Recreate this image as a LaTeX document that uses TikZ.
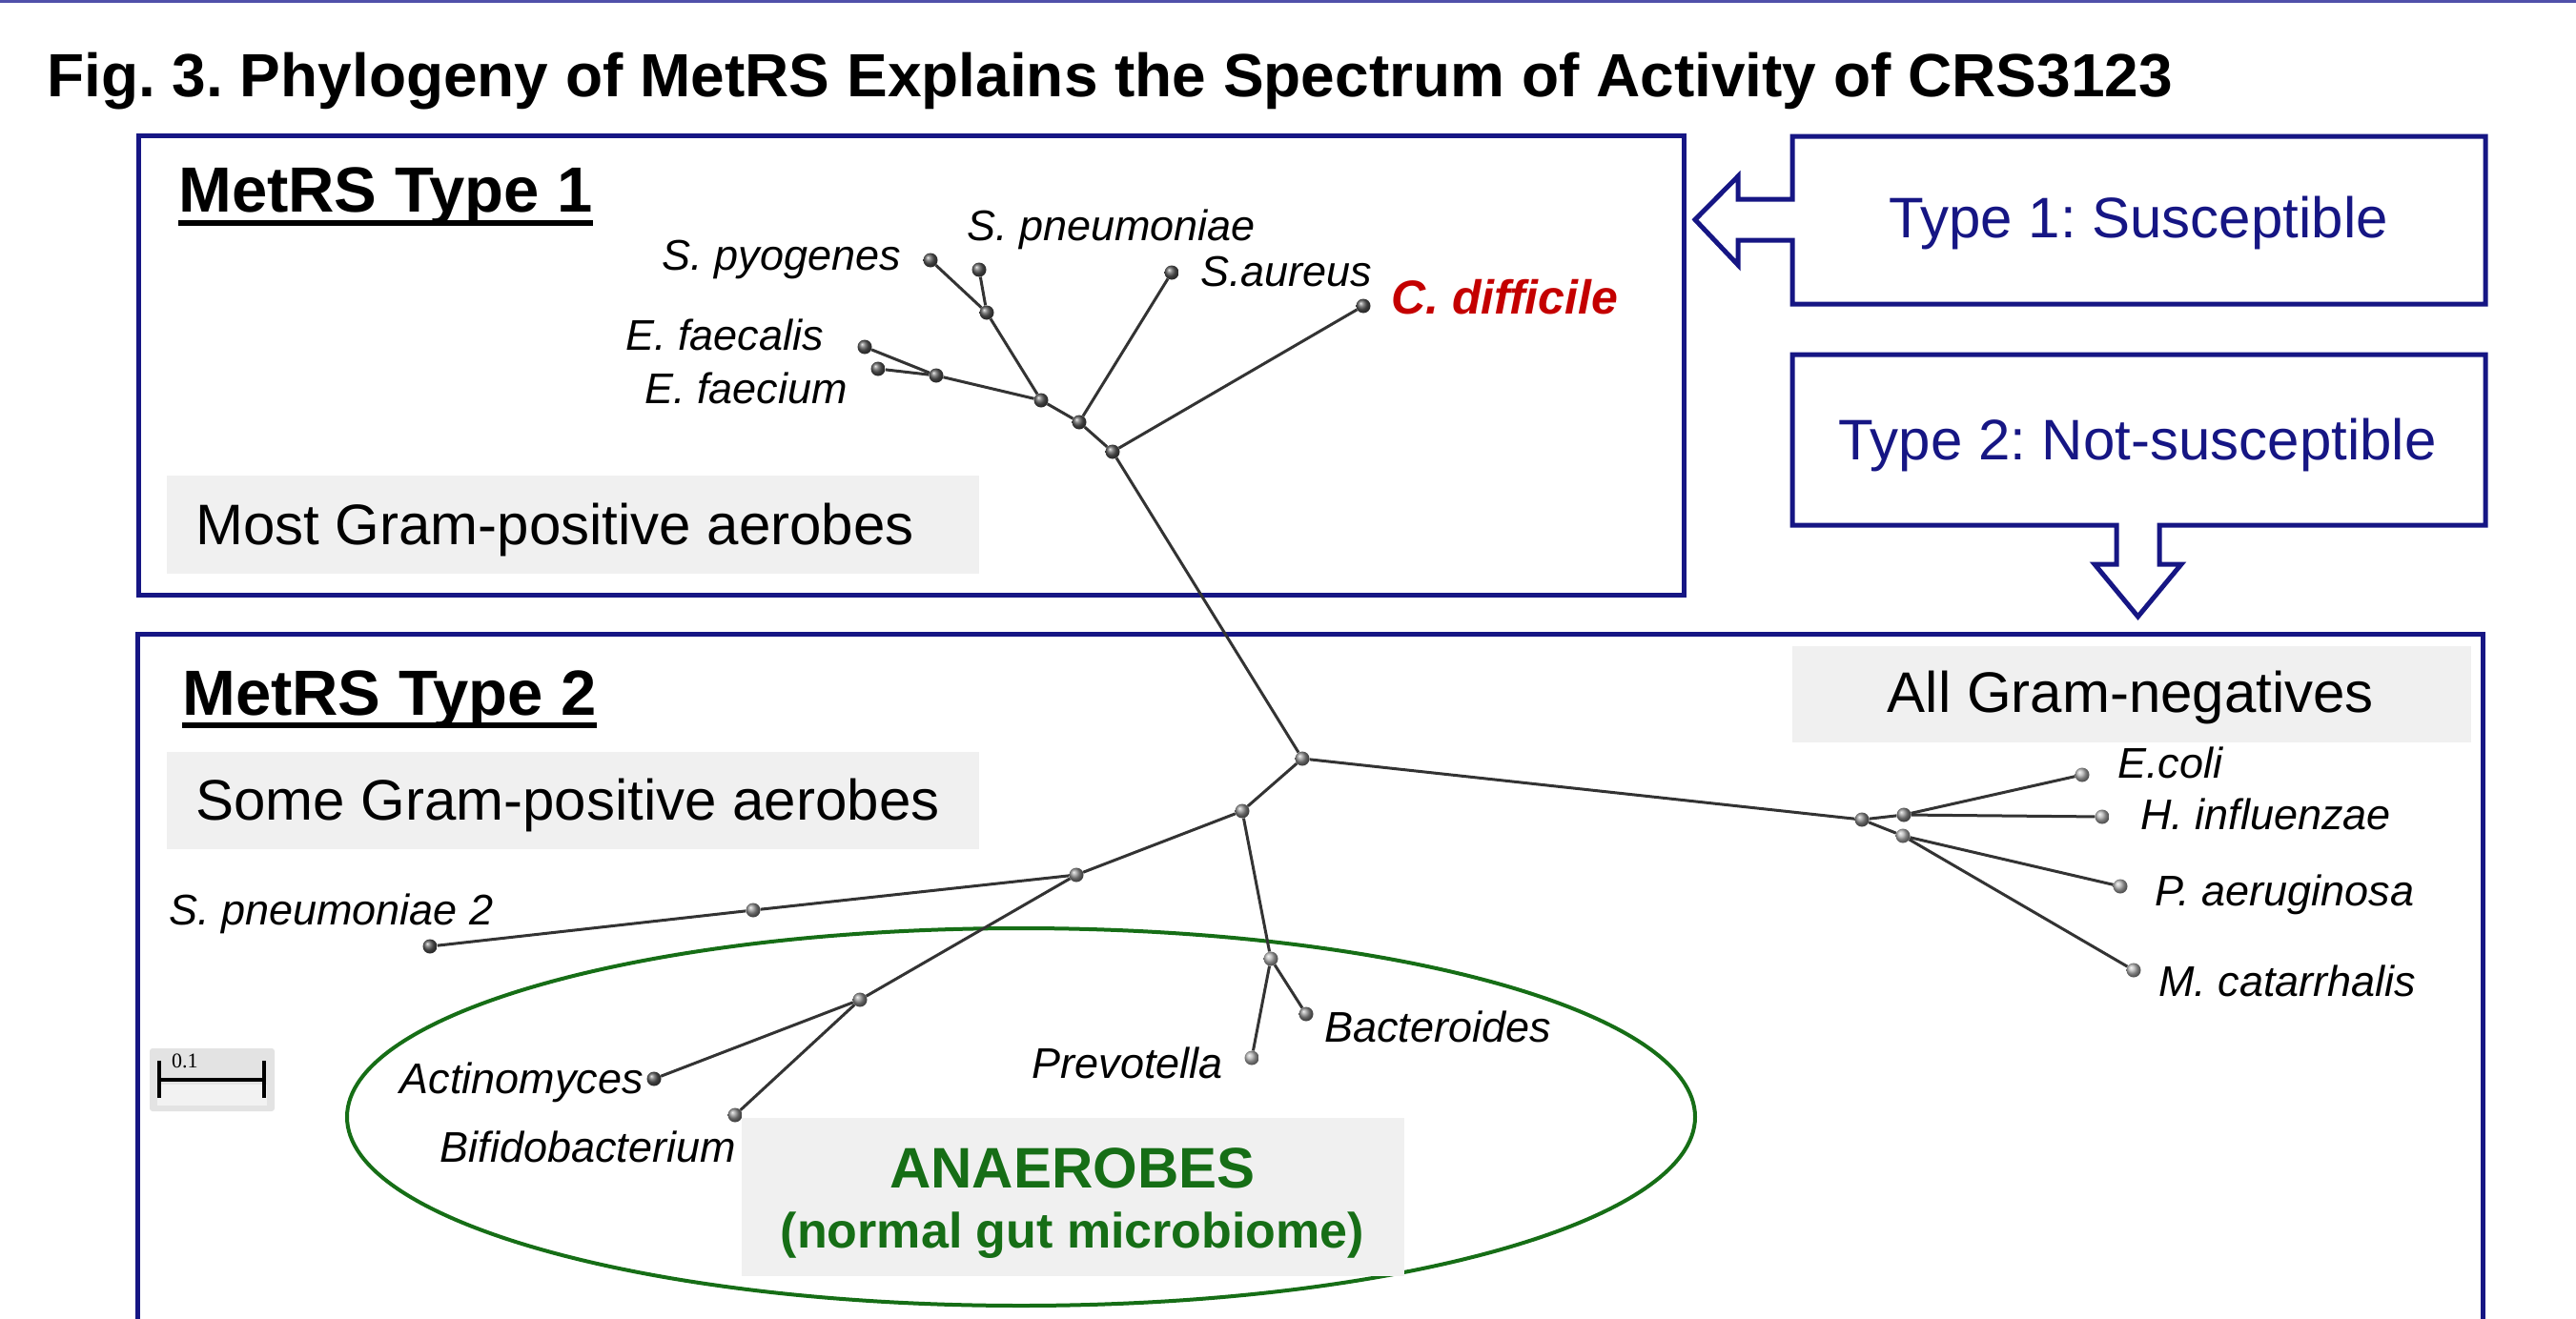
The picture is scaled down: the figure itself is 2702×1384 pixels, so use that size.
\documentclass[tikz,border=0pt]{standalone}
\usepackage{fontspec}
\setmainfont{Liberation Sans}
\newfontfamily\scalefont{Liberation Serif}
\definecolor{navy}{RGB}{22,22,132}
\definecolor{gbox}{RGB}{240,240,240}
\definecolor{grn}{RGB}{22,110,22}
\definecolor{cred}{RGB}{196,0,0}
\definecolor{topline}{RGB}{80,80,170}
\frenchspacing
\begin{document}
\begin{tikzpicture}[x=1pt,y=-1pt,
  edge/.style={draw=black!80, line width=3pt},
  ballnode/.style={circle, inner sep=0pt, minimum size=15pt, shading=ball},
  dk/.style={ballnode, ball color=black!65},
  md/.style={ballnode, ball color=black!45},
  lt/.style={ballnode, ball color=black!30},
  lab/.style={font=\fontsize{45}{54}\selectfont\itshape, inner sep=0pt},
  bigtxt/.style={font=\fontsize{60}{72}\selectfont, inner sep=0pt},
  head/.style={font=\fontsize{67}{80}\selectfont\bfseries, inner sep=0pt},
  graybox/.style={fill=gbox, draw=none, inner sep=0pt},
  navybox/.style={draw=navy, line width=5pt, line join=miter}]
\useasboundingbox (0,0) rectangle (2702,1384);
\clip (0,0) rectangle (2702,1384);
\fill[white] (0,0) rectangle (2702,1384);
% top line
\coordinate (tl1) at (0,1.5);
\coordinate (tl2) at (2702,1.5);
\draw[topline, line width=3pt] (tl1) -- (tl2);
% title
\node[anchor=base west, inner sep=0pt, font=\fontsize{64}{76}\selectfont\bfseries] (title) at (49,101)
  {Fig. 3. Phylogeny of MetRS Explains the Spectrum of Activity of CRS3123};
% main boxes
\draw[navybox] (145,142) rectangle (1766,624);
\draw[navybox] (144,665) rectangle (2604,1430);
% side boxes with arrows
\draw[navybox] (1880,143) -- (2607,143) -- (2607,319) -- (1880,319) -- (1880,252) -- (1823,252)
  -- (1823,278) -- (1778,230.5) -- (1823,185) -- (1823,209) -- (1880,209) -- cycle;
\draw[navybox] (1880,372) -- (2607,372) -- (2607,551) -- (2265,551) -- (2265,592) -- (2288,592)
  -- (2242.5,647) -- (2197,592) -- (2220,592) -- (2220,551) -- (1880,551) -- cycle;
\node[bigtxt, text=navy, anchor=mid] (t1s) at (2243,247) {Type 1: Susceptible};
\node[bigtxt, text=navy, anchor=mid] (t2s) at (2242,480) {Type 2: Not-susceptible};
% headings
\node[head, anchor=base west] (h1) at (187,222) {MetRS Type 1};
\draw[line width=6pt] ([yshift=-12pt]h1.base west) -- ([yshift=-12pt]h1.base east);
\node[head, anchor=base west] (h2) at (191,750) {MetRS Type 2};
\draw[line width=6pt] ([yshift=-11pt]h2.base west) -- ([yshift=-11pt]h2.base east);
% gray boxes
\node[graybox, minimum width=852pt, minimum height=103pt, anchor=north west] (mostbox) at (175,499) {};
\node[bigtxt, anchor=mid west] (most) at (205,569) {Most Gram-positive aerobes};
\node[graybox, minimum width=852pt, minimum height=102pt, anchor=north west] (somebox) at (175,789) {};
\node[bigtxt, anchor=mid west] (some) at (205,858) {Some Gram-positive aerobes};
\node[graybox, minimum width=712pt, minimum height=101pt, anchor=north west] (allbox) at (1880,678) {};
\node[bigtxt, anchor=mid] (all) at (2235,745) {All Gram-negatives};
% ellipse
\draw[grn, line width=4pt] (1071,1172) ellipse [x radius=707, y radius=198];
\node[graybox, minimum width=695pt, minimum height=166pt, anchor=north west] (anbox) at (778,1173) {};
\node[inner sep=0pt, anchor=mid, text=grn, font=\fontsize{60}{72}\selectfont\bfseries] (anaer) at (1125,1244) {ANAEROBES};
\node[inner sep=0pt, anchor=mid, text=grn, font=\fontsize{52}{62}\selectfont\bfseries] (gut) at (1125,1307) {(normal gut microbiome)};
% scale bar
\fill[gray!22, rounded corners=3pt] (157,1100) rectangle (288,1166);
\fill[gray!10] (165,1138) rectangle (280,1160);
\coordinate (sbL) at (167,1133);
\coordinate (sbR) at (277,1133);
\draw[line width=4pt] (sbL) -- (sbR);
\draw[line width=4pt] ([yshift=-19pt]sbL) -- ([yshift=20pt]sbL);
\draw[line width=4pt] ([yshift=-19pt]sbR) -- ([yshift=20pt]sbR);
\node[inner sep=0pt, anchor=mid west, font=\fontsize{22}{26}\selectfont\scalefont] (sbt) at (180,1118) {0.1};
% ---- tree nodes: type 1
\node[dk] (Lpyo) at (976,273) {};
\node[dk] (Lpne) at (1027,283) {};
\node[dk] (Laur) at (1229,286) {};
\node[dk] (Ldif) at (1430,321) {};
\node[dk] (Na) at (1035,328) {};
\node[dk] (Lfcl) at (907,364) {};
\node[dk] (Lfcm) at (921,387) {};
\node[dk] (Nb) at (982,394) {};
\node[dk] (Nc) at (1092,420) {};
\node[dk] (Nd) at (1132,443) {};
\node[dk] (Ne) at (1167,474) {};
% type 2
\node[md] (R) at (1366,796) {};
\node[md] (Nf) at (1303,851) {};
\node[md] (Ng) at (1129,918) {};
\node[md] (Nh) at (790,955) {};
\node[dk] (Lsp2) at (451,993) {};
\node[md] (Ni) at (902,1049) {};
\node[dk] (Lact) at (686,1132) {};
\node[md] (Lbif) at (771,1170) {};
\node[lt] (Nj) at (1333,1006) {};
\node[lt] (Lprev) at (1313,1110) {};
\node[md] (Lbac) at (1370,1064) {};
\node[md] (Nk) at (1953,860) {};
\node[md] (Nl) at (1997,855) {};
\node[lt] (Nm) at (1996,877) {};
\node[lt] (Lcoli) at (2184,813) {};
\node[lt] (Lhin) at (2205,857) {};
\node[lt] (Lpae) at (2224,930) {};
\node[lt] (Lmca) at (2238,1018) {};
% edges
\draw[edge] (Lpyo) -- (Na);
\draw[edge] (Lpne) -- (Na);
\draw[edge] (Na) -- (Nc);
\draw[edge] (Lfcl) -- (Nb);
\draw[edge] (Lfcm) -- (Nb);
\draw[edge] (Nb) -- (Nc);
\draw[edge] (Nc) -- (Nd);
\draw[edge] (Nd) -- (Laur);
\draw[edge] (Nd) -- (Ne);
\draw[edge] (Ne) -- (Ldif);
\draw[edge] (Ne) -- (R);
\draw[edge] (R) -- (Nf);
\draw[edge] (R) -- (Nk);
\draw[edge] (Nf) -- (Ng);
\draw[edge] (Nf) -- (Nj);
\draw[edge] (Ng) -- (Nh);
\draw[edge] (Nh) -- (Lsp2);
\draw[edge] (Ng) -- (Ni);
\draw[edge] (Ni) -- (Lact);
\draw[edge] (Ni) -- (Lbif);
\draw[edge] (Nj) -- (Lprev);
\draw[edge] (Nj) -- (Lbac);
\draw[edge] (Nk) -- (Nl);
\draw[edge] (Nk) -- (Nm);
\draw[edge] (Nl) -- (Lcoli);
\draw[edge] (Nl) -- (Lhin);
\draw[edge] (Nm) -- (Lpae);
\draw[edge] (Nm) -- (Lmca);
% labels
\node[lab, anchor=mid east] (tpyo) at (945,281) {S. pyogenes};
\node[lab, anchor=mid west] (tpne) at (1014,250) {S. pneumoniae};
\node[lab, anchor=mid west] (taur) at (1259,298) {S.aureus};
\node[inner sep=0pt, anchor=mid west, text=cred, font=\fontsize{50}{60}\selectfont\bfseries\itshape] (tdif) at (1459,327) {C. difficile};
\node[lab, anchor=mid east] (tfcl) at (864,365) {E. faecalis};
\node[lab, anchor=mid east] (tfcm) at (889,421) {E. faecium};
\node[lab, anchor=mid west] (tsp2) at (177,968) {S. pneumoniae 2};
\node[lab, anchor=mid east] (tact) at (675,1145) {Actinomyces};
\node[lab, anchor=mid east] (tbif) at (772,1217) {Bifidobacterium};
\node[lab, anchor=mid east] (tprev) at (1283,1129) {Prevotella};
\node[lab, anchor=mid west] (tbac) at (1389,1091) {Bacteroides};
\node[lab, anchor=mid west] (tcoli) at (2221,814) {E.coli};
\node[lab, anchor=mid west] (thin) at (2245,868) {H. influenzae};
\node[lab, anchor=mid west] (tpae) at (2260,948) {P. aeruginosa};
\node[lab, anchor=mid west] (tmca) at (2264,1043) {M. catarrhalis};
\end{tikzpicture}
\end{document}
